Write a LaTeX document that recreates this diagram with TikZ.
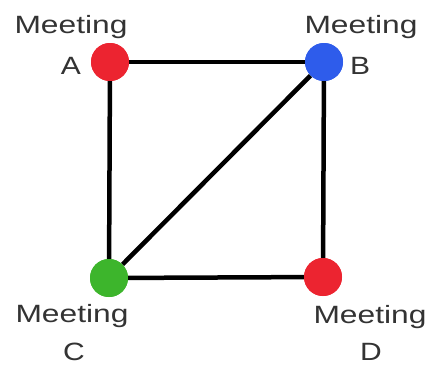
\documentclass[tikz,border=0pt]{standalone}
\usepackage{fontspec}
\setmainfont{Liberation Sans}
\usepackage{xcolor}
\usetikzlibrary{positioning}

\definecolor{mtred}{HTML}{EC2430}
\definecolor{mtblue}{HTML}{2E5CEB}
\definecolor{mtgreen}{HTML}{3DB52C}
\definecolor{mttext}{HTML}{333333}

\begin{document}
\begin{tikzpicture}[
    x=1pt, y=-1pt,
    meet/.style={circle, minimum size=38pt, inner sep=0pt},
    lbl/.style={text=mttext, inner sep=0pt, anchor=base,
                font=\fontsize{25}{25}\selectfont},
    edge/.style={line width=4.5pt, black}
]
\useasboundingbox (0,0) rectangle (435,367);

\node[meet, fill=mtred]   (a) at (110,62)  {};
\node[meet, fill=mtblue]  (b) at (324,62)  {};
\node[meet, fill=mtgreen] (c) at (109,278) {};
\node[meet, fill=mtred]   (d) at (323,277) {};

\draw[edge] (a) -- (b);
\draw[edge] (a) -- (c);
\draw[edge] (b) -- (d);
\draw[edge] (b) -- (c);
\draw[edge] (c) -- (d);

\node[meet, fill=mtred]   at (a) {};
\node[meet, fill=mtblue]  at (b) {};
\node[meet, fill=mtgreen] at (c) {};
\node[meet, fill=mtred]   at (d) {};

\node[lbl] (ma) at (71,33)  {\scalebox{1.27}[1]{Meeting}};
\node[lbl] (la) at (71,74)  {\scalebox{1.2}[1]{A}};
\node[lbl] (mb) at (361,33) {\scalebox{1.27}[1]{Meeting}};
\node[lbl] (lb) at (360,74) {\scalebox{1.2}[1]{B}};
\node[lbl] (mc) at (72,322) {\scalebox{1.27}[1]{Meeting}};
\node[lbl] (lc) at (74,360) {\scalebox{1.2}[1]{C}};
\node[lbl] (md) at (370,323) {\scalebox{1.27}[1]{Meeting}};
\node[lbl] (ld) at (371,360) {\scalebox{1.2}[1]{D}};

\end{tikzpicture}
\end{document}
